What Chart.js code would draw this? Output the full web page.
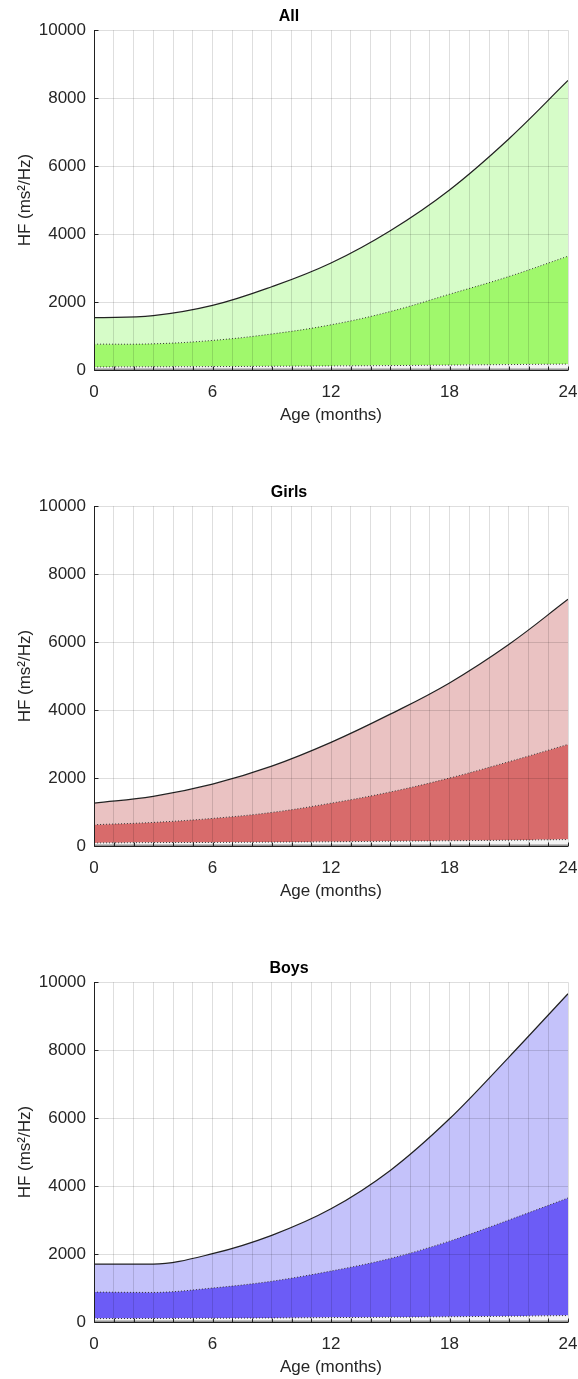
<!DOCTYPE html>
<html>
<head>
<meta charset="utf-8">
<script src="https://cdn.jsdelivr.net/npm/chart.js@4"></script>
<style>
  body { margin: 0; background: #fff; }
  .panel { position: absolute; left: 0; width: 578px; height: 427px; }
</style>
</head>
<body>
<div class="panel" style="top:0px"><canvas id="allChart"></canvas></div>
<div class="panel" style="top:476px"><canvas id="girlsChart"></canvas></div>
<div class="panel" style="top:952px"><canvas id="boysChart"></canvas></div>
<script>
// age in months
const months = [0, 3, 6, 9, 12, 15, 18, 21, 24];

// HF percentile curves (ms²/Hz)
const allTop = [1540, 1600, 1900, 2450, 3150, 4100, 5300, 6800, 8520];
const allMid = [760, 770, 870, 1060, 1330, 1720, 2230, 2750, 3350];
const allLow = [90, 95, 100, 110, 120, 130, 145, 160, 175];

const girlsTop = [1260, 1460, 1820, 2350, 3050, 3880, 4800, 5930, 7260];
const girlsMid = [626, 694, 812, 988, 1260, 1590, 2000, 2480, 2990];
const girlsLow = [90, 100, 105, 115, 125, 140, 155, 170, 190];

const boysTop = [1706, 1706, 2010, 2550, 3330, 4460, 5980, 7790, 9660];
const boysMid = [880, 870, 1000, 1200, 1500, 1870, 2380, 3000, 3650];
const boysLow = [100, 105, 110, 120, 130, 140, 155, 170, 190];

const baseLine = [25, 25, 25, 25, 25, 25, 25, 25, 25];

const yTicks = [0, 2000, 4000, 6000, 8000, 10000];
const xTicks = [0, 6, 12, 18, 24];

const FONT = "'Liberation Sans', Arial, Helvetica, sans-serif";

function pts(values) {
    return months.map((m, i) => ({ x: m, y: values[i] }));
}

// axis lines and small inward tick marks like the original axes
const axesLines = {
    id: 'axesLines',
    afterDatasetsDraw(chart) {
        const { ctx, chartArea, scales } = chart;
        const left = Math.round(chartArea.left) + 0.5;
        const bottom = Math.round(chartArea.bottom) + 0.5;
        ctx.save();
        ctx.strokeStyle = '#262626';
        ctx.lineWidth = 1;
        ctx.beginPath();
        ctx.moveTo(left, Math.round(chartArea.top));
        ctx.lineTo(left, bottom);
        ctx.lineTo(Math.round(chartArea.right), bottom);
        for (let m = 0; m <= 24; m++) {
            const x = Math.round(scales.x.getPixelForValue(m)) + 0.5;
            ctx.moveTo(x, bottom);
            ctx.lineTo(x, bottom - 4);
        }
        yTicks.forEach(v => {
            const y = Math.round(scales.y.getPixelForValue(v)) + 0.5;
            ctx.moveTo(left, y);
            ctx.lineTo(left + 4, y);
        });
        ctx.stroke();
        ctx.restore();
    }
};

// flatStart: the boys curve stays flat for the first months, so use monotone there
function makeChart(id, title, top, mid, low, lightColor, darkColor, flatStart) {
    const curve = flatStart ? { cubicInterpolationMode: 'monotone' } : { tension: 0.4 };
    return new Chart(document.getElementById(id), {
        type: 'line',
        data: {
            datasets: [
                {
                    data: pts(baseLine),
                    borderColor: '#666',
                    borderWidth: 1,
                    backgroundColor: '#e2e2e2',
                    fill: 'origin',
                    pointRadius: 0
                },
                {
                    data: pts(low),
                    borderColor: '#333',
                    borderWidth: 1,
                    borderDash: [1, 2],
                    backgroundColor: '#f4f4f4',
                    fill: '-1',
                    pointRadius: 0,
                    ...curve
                },
                {
                    data: pts(mid),
                    borderColor: '#333',
                    borderWidth: 1,
                    borderDash: [1, 2],
                    backgroundColor: darkColor,
                    fill: '-1',
                    pointRadius: 0,
                    ...curve
                },
                {
                    data: pts(top),
                    borderColor: '#222',
                    borderWidth: 1.2,
                    backgroundColor: lightColor,
                    fill: '-1',
                    pointRadius: 0,
                    ...curve
                }
            ]
        },
        options: {
            responsive: true,
            maintainAspectRatio: false,
            animation: false,
            layout: { padding: { left: 10, right: 10, top: 0, bottom: 1 } },
            plugins: {
                legend: { display: false },
                tooltip: { enabled: false },
                title: {
                    display: true,
                    text: title,
                    color: '#000',
                    font: { family: FONT, size: 16, weight: 'bold' },
                    padding: { top: 7, bottom: 4 }
                }
            },
            scales: {
                x: {
                    type: 'linear',
                    min: 0,
                    max: 24,
                    grid: { color: 'rgba(0,0,0,0.13)', drawTicks: false, z: 1 },
                    border: { display: false },
                    ticks: {
                        stepSize: 1,
                        autoSkip: false,
                        maxRotation: 0,
                        padding: 12,
                        color: '#262626',
                        font: { family: FONT, size: 17 },
                        callback: v => xTicks.includes(v) ? String(v) : ''
                    },
                    title: {
                        display: true,
                        text: 'Age (months)',
                        color: '#262626',
                        font: { family: FONT, size: 17 },
                        padding: { top: 5, bottom: 0 }
                    },
                    afterFit: scale => {
                        scale.height = 56;
                        scale.paddingLeft = 0;
                        scale.paddingRight = 0;
                    }
                },
                y: {
                    min: 0,
                    max: 10000,
                    grid: { color: 'rgba(0,0,0,0.13)', drawTicks: false, z: 1 },
                    border: { display: false },
                    ticks: {
                        stepSize: 2000,
                        padding: 8,
                        color: '#262626',
                        font: { family: FONT, size: 17 },
                        callback: v => String(v)
                    },
                    title: {
                        display: true,
                        text: 'HF (ms²/Hz)',
                        color: '#262626',
                        font: { family: FONT, size: 17 },
                        padding: { top: 5, bottom: 8 }
                    },
                    afterFit: scale => {
                        scale.width = 84;
                        scale.paddingTop = 0;
                        scale.paddingBottom = 0;
                    }
                }
            }
        },
        plugins: [axesLines]
    });
}

makeChart('allChart', 'All', allTop, allMid, allLow, '#d6fcc8', '#a0f86c', false);
makeChart('girlsChart', 'Girls', girlsTop, girlsMid, girlsLow, '#eac2c2', '#d86b6b', false);
makeChart('boysChart', 'Boys', boysTop, boysMid, boysLow, '#c4c2fa', '#6c5cf6', true);
</script>
</body>
</html>
